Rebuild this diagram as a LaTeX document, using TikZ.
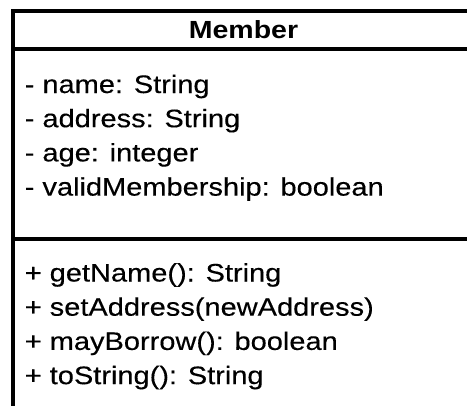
\documentclass[tikz,border=0pt]{standalone}
\usepackage{fontspec}
\setmainfont{Liberation Sans}
\newfontfamily\umlfont[FakeBold=0.25]{Liberation Sans}
\begin{document}
\begin{tikzpicture}[x=0.75pt,y=-0.75pt,
  rule/.style={line width=3pt,line join=miter},
  txt/.style={inner sep=0pt,anchor=base west,font=\umlfont\fontsize{19}{25}\selectfont},
  ttl/.style={inner sep=0pt,anchor=base,font=\fontsize{18.6}{25}\selectfont\bfseries}]
\useasboundingbox (0,0) rectangle (467,405);
\clip (0,0) rectangle (467,405);
\draw[rule] (13,420) -- (13,11) -- (480,11);
\draw[rule] (13,49) -- (480,49);
\draw[rule] (13,238.5) -- (480,238.5);
\node[ttl] (title) at (243.5,38.5) {\scalebox{1.15}[1]{Member}};
\node[txt] (a1) at (24.5,93) {\scalebox{1.145}[1]{- name: String}};
\node[txt] (a2) at (24.5,127.2) {\scalebox{1.145}[1]{- address: String}};
\node[txt] (a3) at (24.5,161.4) {\scalebox{1.145}[1]{- age: integer}};
\node[txt] (a4) at (24.5,195.6) {\scalebox{1.145}[1]{- validMembership: boolean}};
\node[txt] (m1) at (24.5,281.5) {\scalebox{1.145}[1]{+ getName(): String}};
\node[txt] (m2) at (24.5,315.7) {\scalebox{1.145}[1]{+ setAddress(newAddress)}};
\node[txt] (m3) at (24.5,349.9) {\scalebox{1.145}[1]{+ mayBorrow(): boolean}};
\node[txt] (m4) at (24.5,384.1) {\scalebox{1.145}[1]{+ toString(): String}};
\end{tikzpicture}
\end{document}
